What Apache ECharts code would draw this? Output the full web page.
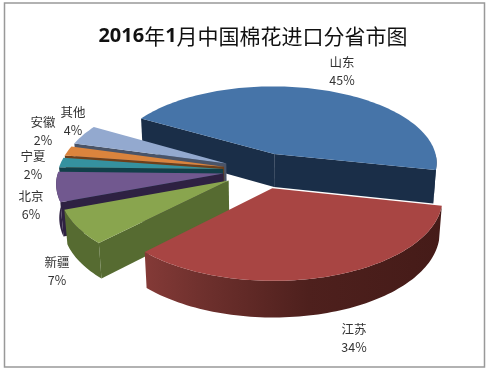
<!DOCTYPE html>
<html><head><meta charset="utf-8">
<style>html,body{margin:0;padding:0;background:#fff}#c{width:490px;height:371px}</style>
<script src="https://cdn.jsdelivr.net/npm/echarts@6/dist/echarts.min.js"></script>
</head><body><div id="c"></div>
<script>
const provinces = ['山东','江苏','新疆','北京','宁夏','安徽','其他'];
const shares = [45,34,7,6,2,2,4];
const topColors = ['#4674A8','#A84543','#89A54E','#71588F','#35919F','#DB843D','#93A9CF'];
const sideColors = ['#1A2E48','#451B18','#566B31','#2E2142','#123F4A','#6E3F1A','#4A5468'];
// label centre in the picture, one pair per province
const labelX = [342,354,57,31,33,43,73];
const labelY = [71,338,271,205,165,131,121];
// painter's order, back to front
const drawOrder = [0,6,5,4,3,2,1];

const view = {cx:261, cy:170.5, R:165, explode:38, k:0.475, p:0.00066, depth:34, q:0.015, firstAngle:210};
const rad = d => d*Math.PI/180;
const total = shares.reduce((a,b)=>a+b,0);
const starts = []; { let acc = view.firstAngle; shares.forEach((v,i)=>{starts[i]=acc; acc+=v/total*360;}); }

function project(X,Z,h){
  const s = 1/(1 - view.p*Z + view.q*h);
  return [view.cx + X*s, view.cy + (view.k*Z + view.depth*h)*s];
}
function arcPts(a0,a1,ex,ez,h){
  const out=[]; const n=Math.max(2,Math.ceil(Math.abs(a1-a0)/1.5));
  for(let i=0;i<=n;i++){const a=rad(a0+(a1-a0)*i/n);
    out.push(project(ex+view.R*Math.cos(a),ez+view.R*Math.sin(a),h));}
  return out;
}
function renderSlice(params,api){
  const i = api.value(0), share = api.value(1);
  const a0 = starts[i], a1 = a0+share/total*360, mid=rad((a0+a1)/2);
  const ex=view.explode*Math.cos(mid), ez=view.explode*Math.sin(mid);
  const children=[];
  const apexT=project(ex,ez,0), apexB=project(ex,ez,1);
  const edge=(a)=>{const t=rad(a);return [project(ex+view.R*Math.cos(t),ez+view.R*Math.sin(t),0),project(ex+view.R*Math.cos(t),ez+view.R*Math.sin(t),1)];};
  const side={fill:sideColors[i]};
  if(-Math.cos(rad(a0))>0){const e=edge(a0);children.push({type:'polygon',shape:{points:[apexT,e[0],e[1],apexB]},style:side});}
  if(Math.cos(rad(a1))>0){const e=edge(a1);children.push({type:'polygon',shape:{points:[apexT,e[0],e[1],apexB]},style:side});}
  // outer wall: only the parts of the rim that face the viewer
  [[0,180],[360,540]].forEach(([lo,hi])=>{
    const b0=Math.max(a0,lo), b1=Math.min(a1,hi);
    if(b1>b0){
      const top=arcPts(b0,b1,ex,ez,0), bot=arcPts(b0,b1,ex,ez,1).reverse();
      const fill = i===1 ? new echarts.graphic.LinearGradient(1,0,0,0,[
        {offset:0,color:'#451B18'},{offset:0.45,color:'#4E201D'},{offset:0.8,color:'#6E302D'},{offset:1,color:'#843A37'}]) : sideColors[i];
      children.push({type:'polygon',shape:{points:top.concat(bot)},style:{fill}});
    }
  });
  children.push({type:'polygon',shape:{points:[apexT].concat(arcPts(a0,a1,ex,ez,0))},style:{fill:topColors[i]}});
  children.push({type:'text',style:{x:labelX[i],y:labelY[i],text:provinces[i]+'\n'+share+'%',align:'center',verticalAlign:'middle',
    fill:'#333',font:'12.5px "Noto Sans CJK SC", "Liberation Sans"',lineHeight:18}});
  return {type:'group',children};
}
const chart = echarts.init(document.getElementById('c'),null,{renderer:'canvas'});
chart.setOption({
  animation:false,
  backgroundColor:'#fff',
  title:{text:'{d|2016}{c|年}{d|1}{c|月中国棉花进口分省市图}',left:248,top:21,textAlign:'center',
    textStyle:{rich:{d:{fontFamily:'Open Sans',fontWeight:'bold',fontSize:20,color:'#111'},
      c:{fontFamily:'Noto Sans CJK SC',fontWeight:'normal',fontSize:21,color:'#111'}}}},
  graphic:[{type:'rect',shape:{x:4.5,y:3,width:480,height:364},style:{fill:'none',stroke:'#999',lineWidth:1.5},silent:true}],
  series:[{type:'custom',coordinateSystem:'none',silent:true,renderItem:renderSlice,clip:false,
    data:drawOrder.map(i=>[i,shares[i]])}]
});
</script></body></html>
